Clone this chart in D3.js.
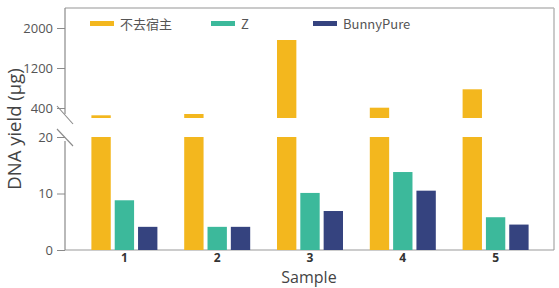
<!DOCTYPE html>
<html><head><meta charset="utf-8">
<script src="https://cdn.jsdelivr.net/npm/d3@7"></script>
<style>body{margin:0;background:#fff}svg{display:block}</style>
</head><body>
<svg id="c" width="559" height="288"></svg>
<script>
const samples = ["1","2","3","4","5"];
const seriesNames = ["不去宿主","Z","BunnyPure"];
const hostYield = [254, 280, 1760, 406, 774];
const zYield = [8.8, 4.1, 10.1, 13.8, 5.8];
const bunnyYield = [4.1, 4.1, 6.9, 10.5, 4.5];
const upperTicks = [400, 1200, 2000];
const lowerTicks = [0, 10, 20];
const colors = ["#F3B71E", "#3CB99B", "#35437F"];

const values = [hostYield, zYield, bunnyYield];
const svg = d3.select("#c");
const L = 65, R = 554, T = 8, B = 250;

const x = d3.scaleBand().domain(samples).range([78, 542]).paddingInner(0).paddingOuter(0);
const xs = d3.scaleBand().domain(seriesNames).range([x.bandwidth()/2 - 33, x.bandwidth()/2 + 33]).paddingInner(0.17);
const yLow = d3.scaleLinear().domain([0, 20]).range([B, 137]);
const yUp = d3.scaleLinear().domain([200, 2400]).range([118, T]);

// frame
const frameC = "#b8b8b8";
svg.append("line").attr("x1", L).attr("x2", R).attr("y1", T).attr("y2", T).attr("stroke", frameC).attr("stroke-width", 1.5);
svg.append("line").attr("x1", R).attr("x2", R).attr("y1", T).attr("y2", B).attr("stroke", frameC).attr("stroke-width", 1.5);
svg.append("line").attr("x1", L).attr("x2", R).attr("y1", B).attr("y2", B).attr("stroke", "#999").attr("stroke-width", 1.2);

// bars
samples.forEach((s, i) => {
  seriesNames.forEach((n, j) => {
    const v = values[j][i];
    const bx = x(s) + xs(n);
    const lowTop = Math.min(v, 20);
    svg.append("rect").attr("x", bx).attr("width", xs.bandwidth())
      .attr("y", yLow(lowTop)).attr("height", yLow(0) - yLow(lowTop)).attr("fill", colors[j]);
    if (v > 200) {
      svg.append("rect").attr("x", bx).attr("width", xs.bandwidth())
        .attr("y", yUp(v)).attr("height", yUp(200) - yUp(v)).attr("fill", colors[j]);
    }
  });
});

// y axes
const axC = "#8a8a8a";
const gU = svg.append("g").attr("transform", `translate(${L},0)`)
  .call(d3.axisLeft(yUp).tickValues(upperTicks).tickFormat(d3.format("d")).tickSize(8).tickPadding(4));
const gL = svg.append("g").attr("transform", `translate(${L},0)`)
  .call(d3.axisLeft(yLow).tickValues(lowerTicks).tickFormat(d3.format("d")).tickSize(8).tickPadding(4));
[gU, gL].forEach(g => {
  g.select(".domain").remove();
  g.selectAll(".tick line").attr("stroke", axC);
  g.selectAll(".tick text").attr("fill", "#555").style("font-family", "'Open Sans', sans-serif").style("font-size", "13px");
});
svg.append("line").attr("x1", L).attr("x2", L).attr("y1", T).attr("y2", yUp(200) - 4).attr("stroke", axC).attr("stroke-width", 1.2);
svg.append("line").attr("x1", L).attr("x2", L).attr("y1", yLow(20) + 4).attr("y2", B).attr("stroke", axC).attr("stroke-width", 1.2);
// break marks
svg.append("line").attr("x1", L - 8).attr("y1", yUp(200) - 12).attr("x2", L + 8).attr("y2", yUp(200) + 6).attr("stroke", axC).attr("stroke-width", 1.1);
svg.append("line").attr("x1", L - 8).attr("y1", yLow(20) - 8).attr("x2", L + 8).attr("y2", yLow(20) + 9).attr("stroke", axC).attr("stroke-width", 1.1);

// x axis labels
const gX = svg.append("g").attr("transform", `translate(0,${B})`)
  .call(d3.axisBottom(x).tickSize(0).tickPadding(3));
gX.select(".domain").remove();
gX.selectAll(".tick text").attr("fill", "#333").style("font-family", "'Open Sans', sans-serif")
  .style("font-size", "12px").style("font-weight", "bold");

// titles
svg.append("text").attr("x", 309).attr("y", 282.5).attr("text-anchor", "middle")
  .attr("fill", "#444").style("font-family", "'Open Sans', sans-serif").style("font-size", "16px").text("Sample");
svg.append("text").attr("transform", "translate(21,129) rotate(-90)").attr("text-anchor", "middle")
  .attr("fill", "#444").style("font-family", "'Open Sans', sans-serif").style("font-size", "18.5px").text("DNA yield (μg)");

// legend
const legX = [90, 211, 313];
seriesNames.forEach((n, j) => {
  svg.append("rect").attr("x", legX[j]).attr("y", 21).attr("width", 24).attr("height", 5).attr("fill", colors[j]);
  svg.append("text").attr("x", legX[j] + 30).attr("y", 28.5).attr("fill", "#555")
    .style("font-family", "'Noto Sans CJK SC', 'Open Sans', sans-serif").style("font-size", "13px").text(n);
});
</script>
</body></html>
